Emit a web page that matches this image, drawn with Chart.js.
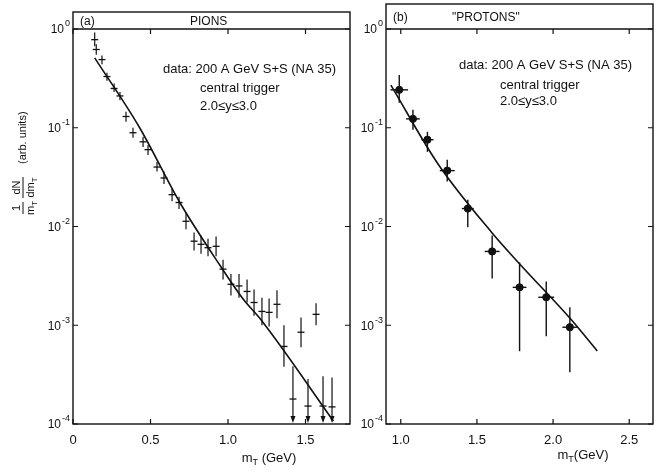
<!DOCTYPE html>
<html>
<head>
<meta charset="utf-8">
<script src="https://cdn.jsdelivr.net/npm/chart.js@4.4.1/dist/chart.umd.min.js"></script>
<style>
  html, body { margin: 0; padding: 0; background: #fff; }
  #wrap { position: relative; width: 658px; height: 474px; }
  #wrap canvas { position: absolute; left: 0; top: 0; }
</style>
</head>
<body>
<div id="wrap">
  <canvas id="pions" width="658" height="474"></canvas>
  <canvas id="protons" width="658" height="474"></canvas>
</div>
<script>
/* ---- (a) pions: points ---- */
var piMt  = [0.14, 0.15, 0.187, 0.219, 0.265, 0.303, 0.342, 0.387, 0.452, 0.484, 0.542, 0.587,
             0.639, 0.684, 0.729, 0.781, 0.826, 0.871, 0.923, 0.968, 1.019, 1.071, 1.123, 1.168,
             1.219, 1.265, 1.316, 1.361, 1.419, 1.471, 1.516, 1.568, 1.613, 1.671];
var piVal = [0.78, 0.62, 0.49, 0.33, 0.25, 0.21, 0.13, 0.089, 0.072, 0.060, 0.040, 0.031,
             0.021, 0.0175, 0.0113, 0.0071, 0.0066, 0.0061, 0.0063, 0.0037, 0.0026, 0.0025, 0.0022, 0.0017,
             0.00138, 0.00135, 0.00163, 0.00061, 0.000179, 0.00085, 0.000152, 0.00129, 0.000152, 0.000149];
var piHi  = [0.92, 0.70, 0.54, 0.36, 0.28, 0.23, 0.145, 0.10, 0.081, 0.067, 0.045, 0.036,
             0.024, 0.020, 0.0136, 0.0087, 0.0081, 0.0075, 0.0079, 0.0046, 0.0033, 0.0033, 0.0029, 0.0023,
             0.0019, 0.00187, 0.00226, 0.0010, 0.000385, 0.0012, 0.000285, 0.00167, 0.000305, 0.000296];
var piLo  = [0.67, 0.55, 0.44, 0.30, 0.23, 0.19, 0.115, 0.079, 0.064, 0.053, 0.036, 0.027,
             0.018, 0.015, 0.0094, 0.0057, 0.0053, 0.0050, 0.0050, 0.0029, 0.0020, 0.0019, 0.0017, 0.00125,
             0.0010, 0.00097, 0.00118, 0.00038, 0.0001, 0.0006, 0.0001, 0.001, 0.0001, 0.0001];
var piFitMt  = [0.14, 0.43, 0.69, 0.95, 1.10, 1.21, 1.68];
var piFitVal = [0.51, 0.10, 0.0174, 0.0040, 0.00182, 0.00115, 0.000107];

/* ---- (b) "protons" ---- */
var prMt    = [0.99, 1.08, 1.175, 1.305, 1.44, 1.60, 1.78, 1.955, 2.11];
var prVal   = [0.242, 0.123, 0.0757, 0.0368, 0.0152, 0.00559, 0.00242, 0.00192, 0.000955];
var prHi    = [0.343, 0.152, 0.091, 0.0475, 0.0187, 0.0081, 0.00433, 0.00278, 0.00152];
var prLo    = [0.179, 0.0955, 0.057, 0.0285, 0.0098, 0.00298, 0.000546, 0.000775, 0.000335];
var prMtErr = [0.058, 0.045, 0.04, 0.049, 0.039, 0.049, 0.045, 0.052, 0.049];
var prFitMt  = [0.935, 1.24, 1.597, 1.773, 2.117, 2.29];
var prFitVal = [0.27, 0.044, 0.0087, 0.0043, 0.00115, 0.00055];

/* ---- axes ---- */
var yTicks = [1, 1e-1, 1e-2, 1e-3, 1e-4];
var yExp   = ['0', '-1', '-2', '-3', '-4'];
var piXTicks = [0, 0.5, 1.0, 1.5];
var prXTicks = [1.0, 1.5, 2.0, 2.5];
var notes = ['data: 200 A GeV S+S (NA 35)', 'central trigger', '2.0\u2264y\u22643.0'];

var INK = '#111';
var FONT = '"Liberation Sans", "DejaVu Sans", sans-serif';
Chart.defaults.font.family = FONT;
Chart.defaults.color = INK;

function pts(xs, ys) { return xs.map(function (x, i) { return { x: x, y: ys[i] }; }); }

function label10(c, right, y, exp) {
  c.textAlign = 'left'; c.textBaseline = 'middle';
  c.font = '12px ' + FONT; var w1 = c.measureText('10').width;
  c.font = '9px ' + FONT;  var w2 = c.measureText(exp).width;
  var x0 = right - w1 - w2 - 1;
  c.font = '12px ' + FONT; c.fillText('10', x0, y + 1);
  c.font = '9px ' + FONT;  c.fillText(exp, x0 + w1 + 1, y - 5);
}

// m with subscript T, centred on cx
function mT(c, cx, base, size, prefix, suffix) {
  prefix = prefix || ''; suffix = suffix || '';
  c.textAlign = 'left'; c.textBaseline = 'alphabetic';
  c.font = size + 'px ' + FONT;
  var a = c.measureText(prefix + 'm').width, s = c.measureText(suffix).width;
  c.font = Math.round(size * 0.7) + 'px ' + FONT;
  var t = c.measureText('T').width;
  var x = cx - (a + t + s) / 2;
  c.font = size + 'px ' + FONT; c.fillText(prefix + 'm', x, base);
  c.font = Math.round(size * 0.7) + 'px ' + FONT; c.fillText('T', x + a, base + 3);
  c.font = size + 'px ' + FONT; c.fillText(suffix, x + a + t, base);
  return a + t + s;
}

function yTitle(c) {
  c.save();
  c.translate(23, 214);
  c.rotate(-Math.PI / 2);
  c.fillStyle = INK; c.strokeStyle = INK; c.lineWidth = 1;
  // 1 / m_T
  c.beginPath(); c.moveTo(0, 0); c.lineTo(12, 0); c.stroke();
  c.font = '11px ' + FONT; c.textAlign = 'center'; c.fillText('1', 6, -3);
  mT(c, 6, 11, 11);
  // dN / dm_T
  c.beginPath(); c.moveTo(16, 0); c.lineTo(37, 0); c.stroke();
  c.font = '11px ' + FONT; c.textAlign = 'center'; c.fillText('dN', 26.5, -3);
  mT(c, 26.5, 11, 11, 'd');
  c.font = '11px ' + FONT; c.textAlign = 'left'; c.textBaseline = 'middle';
  c.fillText('(arb. units)', 50, 0);
  c.restore();
}

var framePlugin = {
  id: 'frame',
  afterDraw: function (chart, args, o) {
    var c = chart.ctx, a = chart.chartArea, xs = chart.scales.x, ys = chart.scales.y;
    c.save();
    c.strokeStyle = INK; c.fillStyle = INK;
    c.lineWidth = 1.4;
    c.strokeRect(a.left, o.headTop, a.right - a.left, a.bottom - o.headTop);
    c.beginPath(); c.moveTo(a.left, a.top); c.lineTo(a.right, a.top); c.stroke();
    c.lineWidth = 1.2;
    o.xTicks.forEach(function (v) {
      var px = xs.getPixelForValue(v);
      c.beginPath();
      c.moveTo(px, a.bottom); c.lineTo(px, a.bottom - 5);
      c.moveTo(px, a.top); c.lineTo(px, a.top + 5);
      c.stroke();
    });
    yTicks.forEach(function (v, i) {
      var py = ys.getPixelForValue(v);
      c.beginPath();
      c.moveTo(a.left, py); c.lineTo(a.left + 5, py);
      c.moveTo(a.right, py); c.lineTo(a.right - 5, py);
      c.stroke();
      label10(c, a.left - 3, py, yExp[i]);
    });
    // header
    c.font = '12px ' + FONT; c.textAlign = 'left'; c.textBaseline = 'middle';
    var hy = (o.headTop + a.top) / 2 + 1;
    c.fillText(o.tag, a.left + 7, hy);
    c.fillText(o.title, o.titleX, hy);
    // notes
    c.font = '13px ' + FONT;
    notes.forEach(function (t, i) {
      c.fillText(t, i === 0 ? o.noteX : o.noteX2, o.noteY[i]);
    });
    // x title
    mT(c, o.xTitleX, o.xTitleY, 13, '', o.xTitleGap ? ' (GeV)' : '(GeV)');
    if (o.yTitle) yTitle(c);
    c.restore();
  }
};

var errPlugin = {
  id: 'errbars',
  afterDatasetsDraw: function (chart) {
    var c = chart.ctx, a = chart.chartArea, xs = chart.scales.x, ys = chart.scales.y;
    c.save();
    c.beginPath(); c.rect(a.left, a.top, a.right - a.left, a.bottom - a.top); c.clip();
    c.strokeStyle = INK; c.fillStyle = INK;
    chart.data.datasets.forEach(function (ds) {
      if (!ds.errHi) return;
      c.lineWidth = ds.errWidth;
      ds.data.forEach(function (p, i) {
        var px = xs.getPixelForValue(p.x), py = ys.getPixelForValue(p.y);
        var top = ys.getPixelForValue(ds.errHi[i]);
        var bot = ys.getPixelForValue(ds.errLo[i]);
        var arrow = ds.errLo[i] <= ys.min;
        if (arrow) bot = a.bottom - 6;
        c.beginPath(); c.moveTo(px, top); c.lineTo(px, bot); c.stroke();
        if (arrow) {
          c.beginPath();
          c.moveTo(px - 2.5, a.bottom - 8); c.lineTo(px + 2.5, a.bottom - 8); c.lineTo(px, a.bottom - 1);
          c.closePath(); c.fill();
        }
        if (ds.xErr) {
          var l = xs.getPixelForValue(p.x - ds.xErr[i]), r = xs.getPixelForValue(p.x + ds.xErr[i]);
          c.beginPath(); c.moveTo(l, py); c.lineTo(r, py); c.stroke();
        }
      });
    });
    c.restore();
  }
};

function scales(xMin, xMax, xTicks) {
  return {
    x: {
      type: 'linear', min: xMin, max: xMax,
      afterBuildTicks: function (s) { s.ticks = xTicks.map(function (v) { return { value: v }; }); },
      afterFit: function (s) { s.height = 22; },
      grid: { display: false, drawTicks: false },
      border: { display: false },
      ticks: { padding: 9, color: INK, font: { size: 13 },
               callback: function (v) { return v === 0 ? '0' : Number(v).toFixed(1); } }
    },
    y: {
      type: 'logarithmic', min: 1e-4, max: 1,
      afterBuildTicks: function (s) { s.ticks = yTicks.map(function (v) { return { value: v }; }); },
      afterFit: function (s) { s.width = 40; },
      grid: { display: false, drawTicks: false },
      border: { display: false },
      ticks: { display: false }
    }
  };
}

function panel(id, cfg) {
  return new Chart(document.getElementById(id), {
    type: 'scatter',
    data: { datasets: cfg.datasets },
    options: {
      responsive: false, animation: false, devicePixelRatio: 1,
      layout: { padding: cfg.padding },
      scales: scales(cfg.xMin, cfg.xMax, cfg.xTicks),
      plugins: { legend: { display: false }, tooltip: { enabled: false }, frame: cfg.frame }
    },
    plugins: [errPlugin, framePlugin]
  });
}

panel('pions', {
  padding: { left: 33, right: 308, top: 29, bottom: 28 },
  xMin: 0, xMax: 1.787, xTicks: piXTicks,
  frame: { headTop: 12, tag: '(a)', title: 'PIONS', titleX: 190, xTicks: piXTicks,
           noteX: 163, noteX2: 200, noteY: [69, 88, 106],
           xTitleX: 269, xTitleY: 462, xTitleGap: true, yTitle: true },
  datasets: [
    { data: pts(piFitMt, piFitVal), showLine: true, pointRadius: 0, borderColor: INK,
      borderWidth: 1.6, cubicInterpolationMode: 'monotone' },
    { data: pts(piMt, piVal), pointStyle: 'line', pointRadius: 3.5, borderColor: INK,
      borderWidth: 1.3, errHi: piHi, errLo: piLo, errWidth: 1.2 }
  ]
});

panel('protons', {
  padding: { left: 346, right: 2, top: 29, bottom: 28 },
  xMin: 0.903, xMax: 2.656, xTicks: prXTicks,
  frame: { headTop: 4, tag: '(b)', title: '"PROTONS"', titleX: 452, xTicks: prXTicks,
           noteX: 459, noteX2: 500, noteY: [65, 85, 101],
           xTitleX: 583, xTitleY: 459, xTitleGap: false, yTitle: false },
  datasets: [
    { data: pts(prFitMt, prFitVal), showLine: true, pointRadius: 0, borderColor: INK,
      borderWidth: 1.6, cubicInterpolationMode: 'monotone' },
    { data: pts(prMt, prVal), pointStyle: 'circle', pointRadius: 3.6, backgroundColor: INK,
      borderColor: INK, borderWidth: 1, errHi: prHi, errLo: prLo, xErr: prMtErr, errWidth: 1.4 }
  ]
});
</script>
</body>
</html>
